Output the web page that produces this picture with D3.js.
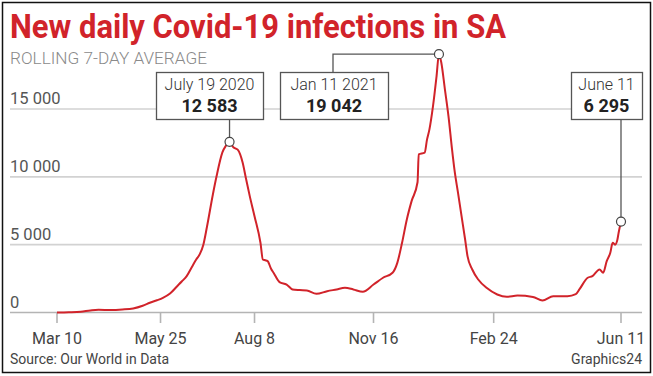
<!DOCTYPE html>
<html>
<head>
<meta charset="utf-8">
<script src="https://cdn.jsdelivr.net/npm/d3@7"></script>
<style>
  body { margin: 0; background: #fff; }
  text { font-family: Roboto, "Liberation Sans", sans-serif; }
</style>
</head>
<body>
<div id="chart"></div>
<script>
// Data (days counted from the first point of the series)
const days = [0, 10, 20, 28, 35, 45, 55, 64, 72, 78, 84, 89, 95, 101, 105, 109, 114, 117, 120, 123, 126, 131, 134, 139, 142, 145,
  148, 150, 152, 156, 159, 162, 166, 171, 173, 175, 177, 180, 182, 187, 193, 198, 204, 210, 218, 227, 235, 242, 249, 257,
  266, 274, 282, 286, 290, 294, 298, 303, 304, 309, 311, 313, 316, 319, 321, 323, 326, 329, 332, 334, 337, 340, 343, 345,
  349, 354, 361, 370, 378, 387, 400, 408, 417, 429, 436, 439, 446, 450, 456, 459, 462, 465, 467, 469, 471, 472, 474]
const cases = [0, 20, 60, 150, 200, 180, 220, 300, 500, 715, 900, 1080, 1400, 1940, 2300, 2680, 3450, 3900, 4300, 5000, 6300, 8700, 10000, 11800, 12300, 12583,
  12200, 12090, 11990, 11060, 9800, 8580, 7100, 5140, 3910, 3850, 3790, 3200, 2930, 2240, 2060, 1700, 1650, 1620, 1380, 1570, 1700, 1820, 1700, 1530,
  2060, 2560, 2930, 3660, 5140, 6860, 8210, 9600, 11650, 11780, 12760, 13500, 15210, 17430, 19042, 18410, 16450, 14480, 12020, 10550, 8830, 7100, 5380, 4150,
  3170, 2430, 1820, 1330, 1160, 1250, 1150, 885, 1200, 1200, 1350, 1700, 2560, 2680, 3170, 2930, 3790, 4400, 5140, 5000, 5380, 5880, 6700]

const tickDays = [0, 87, 166, 266, 367, 474]
const tickLabels = ['Mar 10', 'May 25', 'Aug 8', 'Nov 16', 'Feb 24', 'Jun 11']
const yTicks = [0, 5000, 10000, 15000]

const noteDays = [145, 321, 474]
const noteDates = ['July 19 2020', 'Jan 11 2021', 'June 11']
const noteValues = [12583, 19042, 6295]

const width = 653, height = 376
const red = '#d1232a'

const fmt = d3.formatLocale({ decimal: '.', thousands: ' ', grouping: [3], currency: ['', ''] }).format(',')

const svg = d3.select('#chart')
  .append('svg')
  .attr('width', width)
  .attr('height', height)

// frame
svg.append('rect')
  .attr('x', 2.5).attr('y', 2.5)
  .attr('width', 648).attr('height', 370)
  .attr('fill', 'none')
  .attr('stroke', '#111')
  .attr('stroke-width', 1.5)

// scales
const x = d3.scaleLinear().domain([0, 474]).range([57, 621])
const y = d3.scaleLinear().domain([0, 15000]).range([312.5, 109])

// title
svg.append('text')
  .attr('x', 10).attr('y', 38)
  .attr('fill', red)
  .attr('font-size', 33)
  .attr('font-weight', 700)
  .attr('textLength', 496)
  .attr('lengthAdjust', 'spacingAndGlyphs')
  .text('New daily Covid-19 infections in SA')

svg.append('text')
  .attr('x', 10).attr('y', 64)
  .attr('fill', '#8a8a8a')
  .attr('font-size', 16.5)
  .attr('font-weight', 300)
  .attr('textLength', 197)
  .attr('lengthAdjust', 'spacingAndGlyphs')
  .text('ROLLING 7-DAY AVERAGE')

// grid
const grid = svg.append('g')
grid.selectAll('line')
  .data(yTicks)
  .join('line')
  .attr('x1', 10).attr('x2', 642)
  .attr('y1', d => y(d)).attr('y2', d => y(d))
  .attr('stroke', d => d === 0 ? '#b4b4b4' : '#d2d2d2')
  .attr('stroke-width', 1.6)

grid.selectAll('text')
  .data(yTicks)
  .join('text')
  .attr('x', 10)
  .attr('y', d => y(d) - 5)
  .attr('fill', '#555')
  .attr('font-size', 16.5)
  .text(d => fmt(d))

// x axis
const xa = svg.append('g')
xa.selectAll('line')
  .data(tickDays)
  .join('line')
  .attr('x1', d => x(d)).attr('x2', d => x(d))
  .attr('y1', y(0)).attr('y2', 323)
  .attr('stroke', '#b4b4b4')
  .attr('stroke-width', 1.6)

xa.selectAll('text')
  .data(tickDays)
  .join('text')
  .attr('x', d => x(d))
  .attr('y', 344)
  .attr('text-anchor', 'middle')
  .attr('fill', '#444')
  .attr('font-size', 16)
  .text((d, i) => tickLabels[i])

// line
const series = days.map((d, i) => [d, cases[i]])
svg.append('path')
  .datum(series)
  .attr('fill', 'none')
  .attr('stroke', red)
  .attr('stroke-width', 2)
  .attr('stroke-linejoin', 'round')
  .attr('d', d3.line().curve(d3.curveMonotoneX).x(d => x(d[0])).y(d => y(d[1])))

// annotations
const boxes = [
  { x: 156, y: 72, w: 107, h: 47 },
  { x: 280, y: 72, w: 108, h: 47 },
  { x: 571, y: 72, w: 71, h: 47 }
]
const valueAt = d => cases[days.indexOf(d)]

const ann = svg.append('g')
// connectors
ann.append('path')
  .attr('d', `M${x(noteDays[0])},${boxes[0].y + boxes[0].h}V${y(valueAt(noteDays[0]))}`)
ann.append('path')
  .attr('d', `M333,${boxes[1].y}V${y(valueAt(noteDays[1]))}H${x(noteDays[1])}`)
ann.append('path')
  .attr('d', `M${x(noteDays[2])},${boxes[2].y + boxes[2].h}V${y(valueAt(noteDays[2]))}`)
ann.selectAll('path')
  .attr('fill', 'none')
  .attr('stroke', '#555')
  .attr('stroke-width', 1.3)

ann.selectAll('rect')
  .data(boxes)
  .join('rect')
  .attr('x', d => d.x + 0.5).attr('y', d => d.y + 0.5)
  .attr('width', d => d.w).attr('height', d => d.h)
  .attr('fill', '#fff')
  .attr('stroke', '#555')
  .attr('stroke-width', 1.3)

ann.selectAll('text.date')
  .data(boxes)
  .join('text')
  .attr('class', 'date')
  .attr('x', d => d.x + d.w / 2)
  .attr('y', d => d.y + 18)
  .attr('text-anchor', 'middle')
  .attr('fill', '#333')
  .attr('font-size', 16)
  .attr('font-weight', 300)
  .text((d, i) => noteDates[i])

ann.selectAll('text.val')
  .data(boxes)
  .join('text')
  .attr('class', 'val')
  .attr('x', d => d.x + d.w / 2)
  .attr('y', d => d.y + 40)
  .attr('text-anchor', 'middle')
  .attr('fill', '#222')
  .attr('font-size', 18)
  .attr('font-weight', 700)
  .text((d, i) => fmt(noteValues[i]))

ann.selectAll('circle')
  .data(noteDays)
  .join('circle')
  .attr('cx', d => x(d))
  .attr('cy', d => y(valueAt(d)))
  .attr('r', 4.5)
  .attr('fill', '#fff')
  .attr('stroke', '#444')
  .attr('stroke-width', 1.2)

// footer
svg.append('text')
  .attr('x', 10).attr('y', 364)
  .attr('fill', '#444')
  .attr('font-size', 14)
  .text('Source: Our World in Data')

svg.append('text')
  .attr('x', 642).attr('y', 364)
  .attr('text-anchor', 'end')
  .attr('fill', '#444')
  .attr('font-size', 14)
  .text('Graphics24')
</script>
</body>
</html>
